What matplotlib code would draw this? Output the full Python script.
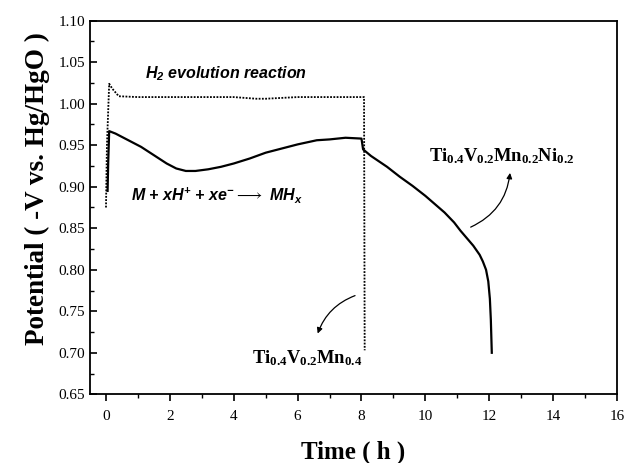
import numpy as np
import matplotlib
matplotlib.use("Agg")
import matplotlib.pyplot as plt

plt.rcParams['font.family'] = ['Liberation Serif', 'DejaVu Serif']
plt.rcParams['mathtext.fontset'] = 'custom'
plt.rcParams['mathtext.rm'] = 'Liberation Serif'
plt.rcParams['mathtext.bf'] = 'Liberation Serif:bold'
plt.rcParams['mathtext.sf'] = 'Liberation Sans:bold:italic'

# Ti0.4V0.2Mn0.4 (dotted, H2 evolution)
t_mn = [0.0, 0.03, 0.1, 0.2, 0.4, 1.0, 2.0, 3.0, 4.0, 4.7, 5.0, 5.5, 6.0, 7.0, 8.0, 8.08, 8.1]
v_mn = [0.875, 0.95, 1.024, 1.018, 1.009, 1.008, 1.008, 1.008, 1.008, 1.006, 1.006, 1.007, 1.008, 1.008, 1.008, 1.008, 0.703]

# Ti0.4V0.2Mn0.2Ni0.2 (solid)
t_ni = [0.05, 0.07, 0.1, 0.3, 0.6, 1.1, 1.5, 1.9, 2.2, 2.5, 2.8, 3.2, 3.6, 4.0, 4.5, 5.0, 5.5, 6.0,
        6.6, 7.0, 7.5, 8.0, 8.05, 8.3, 8.8, 9.2, 9.6, 10.0, 10.3, 10.6, 10.9, 11.1, 11.3, 11.5,
        11.7, 11.8, 11.9, 11.97, 12.02, 12.05, 12.08]
v_ni = [0.895, 0.93, 0.967, 0.964, 0.958, 0.948, 0.938, 0.928, 0.922, 0.919, 0.919, 0.921, 0.924,
        0.928, 0.934, 0.941, 0.946, 0.951, 0.956, 0.957, 0.959, 0.958, 0.945, 0.937, 0.924,
        0.912, 0.901, 0.889, 0.879, 0.869, 0.857, 0.847, 0.838, 0.829, 0.818, 0.810, 0.800,
        0.786, 0.765, 0.740, 0.700]

fig = plt.figure(figsize=(6.26, 4.63), dpi=100)
ax = fig.add_axes([0.1438, 0.1484, 0.8418, 0.8069])

ax.plot(t_mn, v_mn, color='black', linestyle=(0, (1, 0.8)), linewidth=1.3)
ax.plot(t_ni, v_ni, color='black', linestyle='-', linewidth=1.6)

ax.set_xlim(-0.5, 16)
ax.set_ylim(0.65, 1.10)
ax.set_xticks(np.arange(0, 17, 2))
ax.set_xticks(np.arange(0, 17, 1), minor=True)
ax.set_yticks(np.arange(0.65, 1.101, 0.05))
ax.set_yticks(np.arange(0.65, 1.101, 0.025), minor=True)
ax.set_yticklabels(['%.2f' % v for v in np.arange(0.65, 1.101, 0.05)])
ax.tick_params(axis='x', direction='out', length=5, width=1.2, labelsize=11, pad=6)
ax.tick_params(axis='x', which='minor', direction='out', length=3, width=1.0)
ax.tick_params(axis='y', direction='in', length=5, width=1.2, labelsize=11)
ax.tick_params(axis='y', which='minor', direction='in', length=3, width=1.0)
for s in ax.spines.values():
    s.set_linewidth(1.3)

ax.set_xlabel('Time ( h )', fontsize=18, fontweight='bold', labelpad=13)
fig.text(37 / 626, 1 - 189 / 463, 'Potential ( -V vs. Hg/HgO )', fontsize=19.5,
         fontweight='bold', rotation=90, ha='center', va='center')

ax.text(3.75, 1.036, r'$\mathsf{H_2}$ evolution reaction', fontsize=11.5, fontweight='bold',
        style='italic', family='Liberation Sans', ha='center', va='center')
ax.text(0.78, 0.890, r'M + xH$\mathsf{^{+}}$ + xe$\mathsf{^{-}}$$\longrightarrow$ MH$\mathsf{_{x}}$',
        fontsize=11.5, fontweight='bold', style='italic', family='Liberation Sans',
        ha='left', va='center')

ax.text(12.4, 0.937, r'$\mathbf{Ti_{0.4}V_{0.2}Mn_{0.2}Ni_{0.2}}$', fontsize=13.3,
        ha='center', va='center')
ax.annotate('', xy=(12.66, 0.920), xytext=(11.34, 0.850),
            arrowprops=dict(arrowstyle='-|>', color='black', lw=0.9,
                            connectionstyle='arc3,rad=0.3', mutation_scale=8))

ax.text(6.3, 0.694, r'$\mathbf{Ti_{0.4}V_{0.2}Mn_{0.4}}$', fontsize=13.3,
        ha='center', va='center')
ax.annotate('', xy=(6.6, 0.720), xytext=(7.88, 0.770),
            arrowprops=dict(arrowstyle='-|>', color='black', lw=0.9,
                            connectionstyle='arc3,rad=0.25', mutation_scale=8))

fig.savefig('out.png', dpi=100)
